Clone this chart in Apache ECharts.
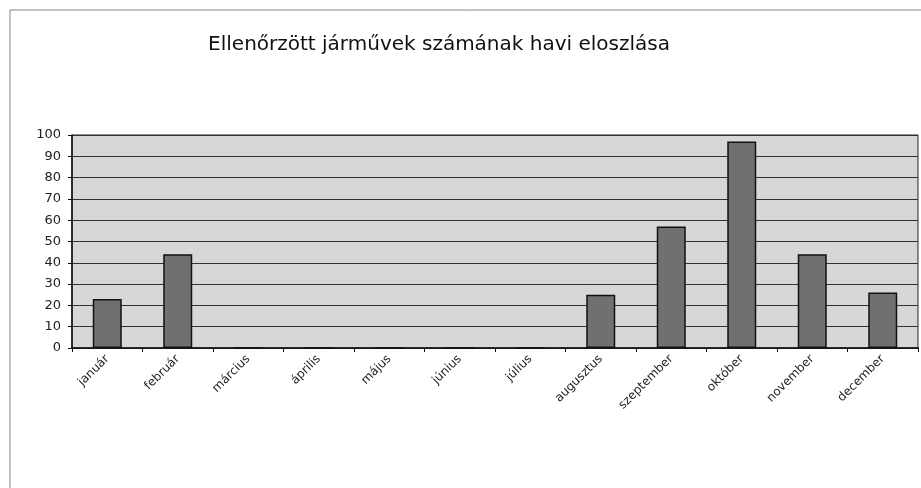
<!DOCTYPE html>
<html>
<head>
<meta charset="utf-8">
<script src="https://cdn.jsdelivr.net/npm/echarts@6/dist/echarts.min.js"></script>
<style>
	html,body{margin:0;padding:0;background:#fff;}
	#chart{width:921px;height:488px;}
</style>
</head>
<body>
<div id="chart"></div>
<script>
	// hónapok
	var months = ['január', 'február', 'március', 'április', 'május', 'június',
		'július', 'augusztus', 'szeptember', 'október', 'november', 'december']
	// ellenőrzött járművek száma
	var counts = [23, 44, 0, 0, 0, 0, 0, 25, 57, 97, 44, 26]
	var yMin = 0
	var yMax = 100
	var yStep = 10

	var chart = echarts.init(document.getElementById('chart'))
	chart.setOption({
		backgroundColor: '#fff',
		animation: false,
		title: {
			text: 'Ellenőrzött járművek számának havi eloszlása',
			left: 434,
			top: 30,
			textAlign: 'center',
			textStyle: {
				fontFamily: 'DejaVu Sans, sans-serif',
				fontSize: 20,
				fontWeight: 'normal',
				color: '#111'
			}
		},
		graphic: [{
			type: 'polyline',
			shape: {points: [[10, 488], [10, 10], [921, 10]]},
			style: {stroke: '#888', lineWidth: 1, fill: null}
		}],
		grid: {
			left: 72,
			right: 3,
			top: 135,
			bottom: 140,
			show: true,
			backgroundColor: '#d7d7d7',
			borderColor: '#222',
			borderWidth: 1
		},
		xAxis: {
			type: 'category',
			data: months,
			axisLine: {lineStyle: {color: '#111', width: 1.5}},
			axisTick: {show: true, length: 4, lineStyle: {color: '#111'}},
			axisLabel: {
				rotate: 45,
				interval: 0,
				margin: 9,
				fontFamily: 'DejaVu Sans, sans-serif',
				fontSize: 12,
				color: '#222'
			}
		},
		yAxis: {
			type: 'value',
			min: yMin,
			max: yMax,
			interval: yStep,
			axisLine: {show: true, lineStyle: {color: '#111', width: 1.5}},
			axisTick: {show: true, length: 4, lineStyle: {color: '#111'}},
			axisLabel: {
				margin: 11,
				fontFamily: 'DejaVu Sans, sans-serif',
				fontSize: 13,
				color: '#222'
			},
			splitLine: {lineStyle: {color: '#333', width: 1}}
		},
		series: [{
			type: 'bar',
			data: counts,
			barWidth: 29,
			itemStyle: {
				color: '#707070',
				borderColor: '#111',
				borderWidth: 1.5
			}
		}]
	})
</script>
</body>
</html>
